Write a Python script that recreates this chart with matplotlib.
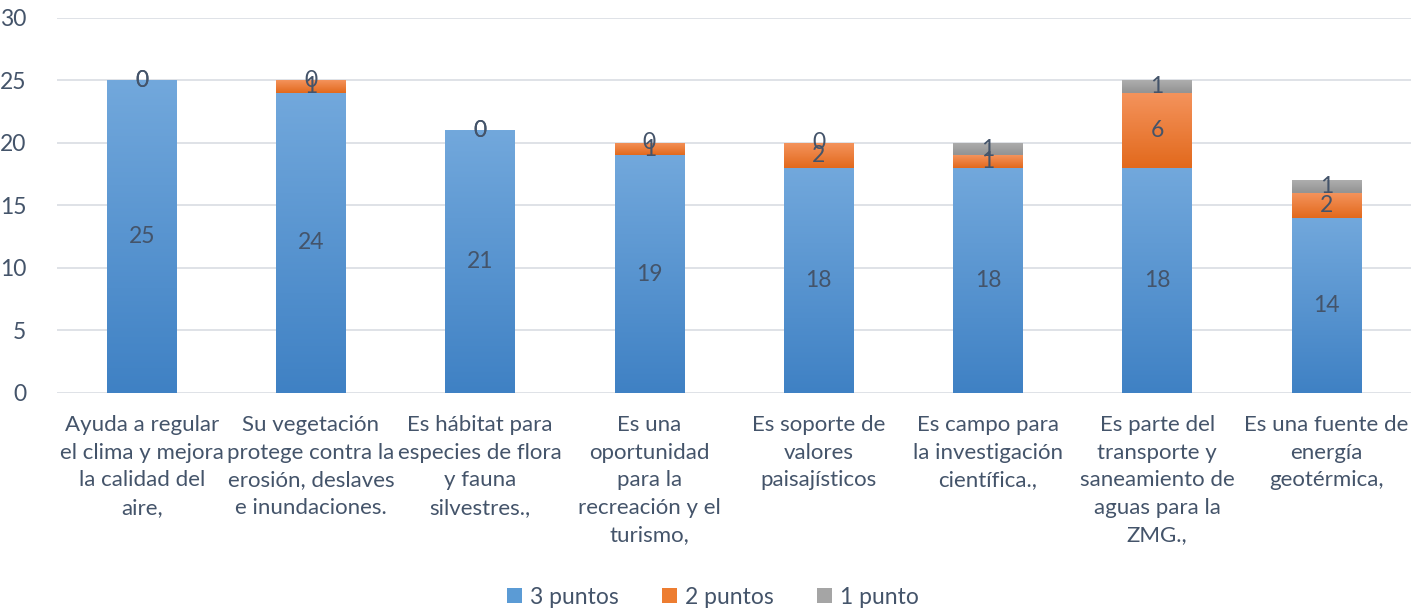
import numpy as np
import matplotlib.pyplot as plt
from matplotlib.colors import LinearSegmentedColormap

plt.rcParams['font.family'] = ['Lato', 'DejaVu Sans']

# datos
categorias = [
    "Ayuda a regular\nel clima y mejora\nla calidad del\naire,",
    "Su vegetación\nprotege contra la\nerosión, deslaves\ne inundaciones.",
    "Es hábitat para\nespecies de flora\ny fauna\nsilvestres.,",
    "Es una\noportunidad\npara la\nrecreación y el\nturismo,",
    "Es soporte de\nvalores\npaisajísticos",
    "Es campo para\nla investigación\ncientífica.,",
    "Es parte del\ntransporte y\nsaneamiento de\naguas para la\nZMG.,",
    "Es una fuente de\nenergía\ngeotérmica,",
]
tres_puntos = [25, 24, 21, 19, 18, 18, 18, 14]
dos_puntos = [0, 1, 0, 1, 2, 1, 6, 2]
un_punto = [0, 0, 0, 0, 0, 1, 1, 1]

series = [("3 puntos", tres_puntos, "#5B9BD5", ("#3F81C4", "#72A8DC")),
          ("2 puntos", dos_puntos, "#ED7D31", ("#E2691C", "#F4935C")),
          ("1 punto", un_punto, "#A5A5A5", ("#939393", "#ADADAD"))]

texto = "#44546A"
fs = 16.5

fig = plt.figure(figsize=(14.26, 6.12), dpi=100)
ax = fig.add_axes([0.040, 0.358, 0.9495, 0.6126])

x = np.arange(len(categorias))
ancho = 0.41
base = np.zeros(len(categorias))
grad = np.linspace(0, 1, 256).reshape(-1, 1)

for nombre, vals, color, (c0, c1) in series:
    vals = np.array(vals, dtype=float)
    barras = ax.bar(x, vals, ancho, bottom=base, color=color, label=nombre, zorder=2)
    cmap = LinearSegmentedColormap.from_list(nombre, [c0, c1])
    for b in barras:
        if b.get_height() <= 0:
            continue
        x0, y0 = b.get_x(), b.get_y()
        im = ax.imshow(grad, cmap=cmap, aspect='auto', origin='lower',
                       extent=(x0, x0 + b.get_width(), y0, y0 + b.get_height()), zorder=2.5)
        im.set_clip_path(b)
    for xi, yb, v in zip(x, base, vals):
        ax.text(xi, yb + v / 2, f"{int(v)}", ha='center', va='center',
                fontsize=fs, color=texto, zorder=4)
    base = base + vals

ax.set_xlim(-0.5, len(categorias) - 0.5)
ax.set_ylim(0, 30)
ax.set_yticks(range(0, 31, 5))
ax.yaxis.grid(True, color="#D9DDE3", linewidth=1.2, zorder=0)
ax.set_axisbelow(True)
for s in ax.spines.values():
    s.set_visible(False)
ax.tick_params(axis='y', length=0, labelsize=fs, labelcolor=texto, pad=22)
ax.tick_params(axis='x', length=0, labelsize=16, labelcolor=texto, pad=16)
ax.set_xticks(x)
ax.set_xticklabels(categorias, linespacing=1.47, va='top')

fig.legend(*ax.get_legend_handles_labels(), loc='center', bbox_to_anchor=(0.5, 1 - 597 / 612),
           ncol=3, frameon=False, fontsize=fs, labelcolor=texto, handlelength=0.65,
           handleheight=0.65, handletextpad=0.35, columnspacing=1.9)

fig.savefig("out.png", dpi=100)
